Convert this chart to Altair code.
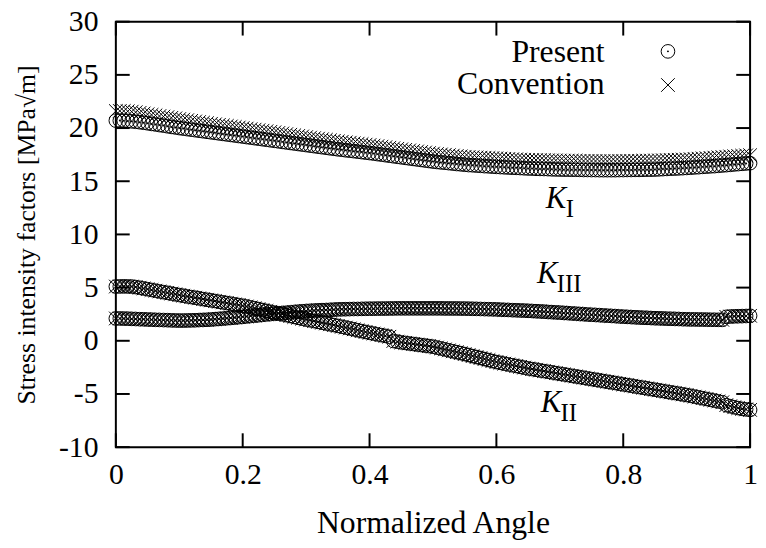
import altair as alt
import pandas as pd

# ---------------- data ----------------
angle = [i / 160 for i in range(161)]

ki_present = [
    20.70, 20.70, 20.69, 20.67, 20.63, 20.59, 20.55, 20.50, 20.45,
    20.39, 20.34, 20.28, 20.23, 20.17, 20.11, 20.06, 20.00,
    19.95, 19.90, 19.85, 19.80, 19.75, 19.70, 19.65, 19.60,
    19.55, 19.50, 19.45, 19.40, 19.35, 19.30, 19.25, 19.20,
    19.15, 19.10, 19.05, 19.00, 18.95, 18.90, 18.85, 18.80,
    18.75, 18.70, 18.65, 18.60, 18.55, 18.50, 18.45, 18.40,
    18.35, 18.30, 18.25, 18.20, 18.15, 18.10, 18.05, 18.00,
    17.96, 17.91, 17.87, 17.83, 17.78, 17.74, 17.69, 17.65,
    17.60, 17.55, 17.50, 17.45, 17.40, 17.35, 17.30, 17.25,
    17.20, 17.15, 17.10, 17.05, 17.00, 16.95, 16.90, 16.85,
    16.81, 16.77, 16.74, 16.70, 16.66, 16.62, 16.59, 16.55,
    16.52, 16.50, 16.47, 16.45, 16.42, 16.40, 16.37, 16.35,
    16.33, 16.31, 16.29, 16.27, 16.26, 16.24, 16.22, 16.20,
    16.19, 16.17, 16.16, 16.15, 16.14, 16.12, 16.11, 16.10,
    16.09, 16.09, 16.08, 16.08, 16.07, 16.06, 16.06, 16.05,
    16.05, 16.04, 16.04, 16.04, 16.04, 16.04, 16.05, 16.05,
    16.06, 16.06, 16.07, 16.07, 16.08, 16.09, 16.09, 16.10,
    16.12, 16.14, 16.16, 16.18, 16.19, 16.21, 16.23, 16.25,
    16.27, 16.30, 16.32, 16.35, 16.37, 16.40, 16.42, 16.45,
    16.48, 16.51, 16.54, 16.58, 16.61, 16.64, 16.67, 16.70,
]

ki_convention = [
    21.60, 21.61, 21.60, 21.58, 21.54, 21.49, 21.43, 21.37, 21.30,
    21.24, 21.19, 21.13, 21.08, 21.02, 20.96, 20.91, 20.85,
    20.79, 20.74, 20.68, 20.62, 20.57, 20.51, 20.46, 20.40,
    20.35, 20.30, 20.25, 20.20, 20.15, 20.10, 20.05, 20.00,
    19.95, 19.90, 19.85, 19.80, 19.75, 19.70, 19.65, 19.60,
    19.54, 19.49, 19.43, 19.37, 19.32, 19.26, 19.21, 19.15,
    19.10, 19.05, 19.00, 18.95, 18.90, 18.85, 18.80, 18.75,
    18.71, 18.66, 18.62, 18.57, 18.53, 18.49, 18.44, 18.40,
    18.35, 18.30, 18.25, 18.20, 18.15, 18.10, 18.05, 18.00,
    17.95, 17.90, 17.85, 17.80, 17.75, 17.70, 17.65, 17.60,
    17.56, 17.52, 17.49, 17.45, 17.41, 17.37, 17.34, 17.30,
    17.28, 17.26, 17.24, 17.22, 17.21, 17.19, 17.17, 17.15,
    17.13, 17.11, 17.09, 17.07, 17.06, 17.04, 17.02, 17.00,
    16.99, 16.99, 16.98, 16.98, 16.97, 16.96, 16.96, 16.95,
    16.94, 16.94, 16.93, 16.93, 16.92, 16.91, 16.91, 16.90,
    16.90, 16.89, 16.89, 16.89, 16.89, 16.89, 16.90, 16.90,
    16.91, 16.91, 16.92, 16.92, 16.93, 16.94, 16.94, 16.95,
    16.96, 16.97, 16.99, 17.00, 17.01, 17.02, 17.04, 17.05,
    17.07, 17.10, 17.12, 17.15, 17.17, 17.20, 17.22, 17.25,
    17.28, 17.30, 17.33, 17.35, 17.38, 17.40, 17.43, 17.45,
]

kii = [
    5.10, 5.11, 5.12, 5.11, 5.10, 5.05, 4.99, 4.92, 4.85,
    4.78, 4.71, 4.64, 4.57, 4.51, 4.44, 4.37, 4.30,
    4.24, 4.17, 4.11, 4.05, 3.99, 3.92, 3.86, 3.80,
    3.74, 3.67, 3.61, 3.55, 3.49, 3.42, 3.36, 3.30,
    3.22, 3.14, 3.06, 2.98, 2.89, 2.81, 2.73, 2.65,
    2.57, 2.49, 2.41, 2.33, 2.24, 2.16, 2.08, 2.00,
    1.93, 1.85, 1.78, 1.70, 1.63, 1.55, 1.48, 1.40,
    1.32, 1.24, 1.16, 1.08, 0.99, 0.91, 0.83, 0.75,
    0.68, 0.60, 0.53, 0.46, 0.38, -0.02, -0.08, -0.15,
    -0.20, -0.25, -0.30, -0.35, -0.40, -0.45, -0.50, -0.55,
    -0.64, -0.72, -0.81, -0.90, -0.99, -1.07, -1.16, -1.25,
    -1.34, -1.44, -1.53, -1.62, -1.72, -1.81, -1.91, -2.00,
    -2.07, -2.15, -2.22, -2.30, -2.37, -2.45, -2.52, -2.60,
    -2.66, -2.72, -2.79, -2.85, -2.91, -2.97, -3.04, -3.10,
    -3.16, -3.22, -3.29, -3.35, -3.41, -3.47, -3.54, -3.60,
    -3.66, -3.72, -3.79, -3.85, -3.91, -3.97, -4.04, -4.10,
    -4.16, -4.22, -4.29, -4.35, -4.41, -4.47, -4.54, -4.60,
    -4.66, -4.72, -4.79, -4.85, -4.91, -4.97, -5.04, -5.10,
    -5.17, -5.25, -5.32, -5.40, -5.47, -5.55, -5.62, -5.70,
    -5.78, -6.05, -6.15, -6.25, -6.33, -6.40, -6.45, -6.50,
]

kiii = [
    2.10, 2.10, 2.09, 2.08, 2.06, 2.05, 2.03, 2.02, 2.00,
    1.99, 1.97, 1.96, 1.95, 1.94, 1.92, 1.91, 1.90,
    1.90, 1.91, 1.92, 1.93, 1.95, 1.96, 1.98, 2.00,
    2.03, 2.06, 2.09, 2.12, 2.15, 2.18, 2.22, 2.25,
    2.29, 2.33, 2.36, 2.40, 2.44, 2.48, 2.51, 2.55,
    2.58, 2.61, 2.64, 2.67, 2.71, 2.74, 2.77, 2.80,
    2.82, 2.84, 2.86, 2.88, 2.89, 2.91, 2.93, 2.95,
    2.96, 2.97, 2.98, 2.99, 2.99, 3.00, 3.01, 3.02,
    3.02, 3.03, 3.03, 3.03, 3.04, 3.04, 3.05, 3.05,
    3.05, 3.05, 3.05, 3.05, 3.05, 3.05, 3.05, 3.05,
    3.05, 3.05, 3.04, 3.04, 3.04, 3.04, 3.03, 3.03,
    3.02, 3.01, 3.00, 2.99, 2.98, 2.97, 2.96, 2.95,
    2.93, 2.91, 2.90, 2.88, 2.87, 2.85, 2.84, 2.82,
    2.80, 2.78, 2.76, 2.74, 2.71, 2.69, 2.67, 2.65,
    2.62, 2.60, 2.57, 2.55, 2.52, 2.50, 2.47, 2.45,
    2.43, 2.41, 2.38, 2.36, 2.34, 2.32, 2.29, 2.27,
    2.25, 2.23, 2.21, 2.19, 2.17, 2.16, 2.14, 2.12,
    2.11, 2.10, 2.08, 2.07, 2.06, 2.05, 2.03, 2.02,
    2.01, 2.01, 2.00, 2.00, 1.99, 1.98, 1.98, 1.97,
    1.97, 2.25, 2.28, 2.30, 2.31, 2.32, 2.33, 2.35,
]

for arr in (ki_present, ki_convention, kii, kiii):
    assert len(arr) == len(angle), len(arr)

x_ticks = [0, 0.2, 0.4, 0.6, 0.8, 1]
y_ticks = [-10, -5, 0, 5, 10, 15, 20, 25, 30]

label_t = [0.678, 0.664, 0.670]
label_v = [12.46, 5.41, -6.66]
label_main = ["K", "K", "K"]
label_sub = ["I", "III", "II"]

legend_names = ["Present", "Convention"]

# ---------------- build tables ----------------
present = pd.concat([
    pd.DataFrame({"t": angle, "v": ki_present, "s": "KI"}),
    pd.DataFrame({"t": angle, "v": kii, "s": "KII"}),
    pd.DataFrame({"t": angle, "v": kiii, "s": "KIII"}),
])
convention = pd.concat([
    pd.DataFrame({"t": angle, "v": ki_convention, "s": "KI"}),
    pd.DataFrame({"t": angle, "v": kii, "s": "KII"}),
    pd.DataFrame({"t": angle, "v": kiii, "s": "KIII"}),
])
labels = pd.DataFrame({"t": label_t, "v": label_v, "main": label_main, "sub": label_sub})

W, H = 641, 430
FONT = "Liberation Serif"
TICK = 14
CROSS = "M-1,-1L1,1M1,-1L-1,1"
MSIZE = 190

x_enc = alt.X("t:Q", scale=alt.Scale(domain=[0, 1], nice=False, zero=False),
              axis=alt.Axis(values=x_ticks, labelExpr="'' + datum.value",
                            title="Normalized Angle", labelPadding=13, titlePadding=18,
                            titleFontSize=32))
y_enc = alt.Y("v:Q", scale=alt.Scale(domain=[-10, 30], nice=False, zero=False),
              axis=alt.Axis(values=y_ticks, labelExpr="'' + datum.value",
                            title="Stress intensity factors [MPa√m]",
                            labelPadding=18, titlePadding=19, titleFontSize=26))

circles = alt.Chart(present).mark_point(
    shape="circle", filled=False, size=MSIZE, stroke="black", strokeWidth=1, opacity=1
).encode(x=x_enc, y=y_enc, detail="s:N")
dots = alt.Chart(present).mark_point(
    shape="circle", filled=True, size=4, color="black", opacity=1
).encode(x=x_enc, y=y_enc, detail="s:N")
crosses = alt.Chart(convention).mark_point(
    shape=CROSS, filled=False, size=MSIZE, stroke="black", strokeWidth=1, opacity=1
).encode(x=x_enc, y=y_enc, detail="s:N")

ytick_df = pd.DataFrame({"v": y_ticks})
xtick_df = pd.DataFrame({"t": x_ticks})
tick_left = alt.Chart(ytick_df).mark_rule(color="black", strokeWidth=2).encode(
    y=y_enc, x=alt.value(0), x2=alt.value(TICK))
tick_right = alt.Chart(ytick_df).mark_rule(color="black", strokeWidth=2).encode(
    y=y_enc, x=alt.value(W - TICK), x2=alt.value(W))
tick_bottom = alt.Chart(xtick_df).mark_rule(color="black", strokeWidth=2).encode(
    x=x_enc, y=alt.value(H), y2=alt.value(H - TICK))
tick_top = alt.Chart(xtick_df).mark_rule(color="black", strokeWidth=2).encode(
    x=x_enc, y=alt.value(0), y2=alt.value(TICK))

lab_main = alt.Chart(labels).mark_text(
    font=FONT, fontStyle="italic", fontSize=31, align="left", baseline="alphabetic", color="black"
).encode(x=x_enc, y=y_enc, text="main:N")
lab_sub = alt.Chart(labels).mark_text(
    font=FONT, fontSize=25, align="left", baseline="alphabetic", color="black", dx=20, dy=9
).encode(x=x_enc, y=y_enc, text="sub:N")

leg_text1 = alt.Chart(pd.DataFrame({"name": [legend_names[0]]})).mark_text(
    font=FONT, fontSize=32, align="right", baseline="alphabetic", color="black"
).encode(text="name:N", x=alt.value(494), y=alt.value(41))
leg_text2 = alt.Chart(pd.DataFrame({"name": [legend_names[1]]})).mark_text(
    font=FONT, fontSize=32, align="right", baseline="alphabetic", color="black"
).encode(text="name:N", x=alt.value(494), y=alt.value(73))
leg_circle = alt.Chart(pd.DataFrame({"name": [legend_names[0]]})).mark_point(
    shape="circle", filled=False, size=MSIZE, stroke="black", strokeWidth=1, opacity=1
).encode(x=alt.value(558), y=alt.value(30), detail="name:N")
leg_dot = alt.Chart(pd.DataFrame({"name": [legend_names[0]]})).mark_point(
    shape="circle", filled=True, size=4, color="black", opacity=1
).encode(x=alt.value(558), y=alt.value(30), detail="name:N")
leg_cross = alt.Chart(pd.DataFrame({"name": [legend_names[1]]})).mark_point(
    shape=CROSS, filled=False, size=MSIZE, stroke="black", strokeWidth=1, opacity=1
).encode(x=alt.value(558), y=alt.value(64), detail="name:N")

chart = alt.layer(
    circles, dots, crosses,
    tick_left, tick_right, tick_bottom, tick_top,
    lab_main, lab_sub,
    leg_text1, leg_text2, leg_circle, leg_dot, leg_cross,
).properties(
    width=W, height=H,
    padding={"left": 109, "top": 11, "right": 8, "bottom": 91},
    autosize=alt.AutoSizeParams(type="none"),
    background="white",
).configure_view(
    stroke="black", strokeWidth=2
).configure_axis(
    grid=False, ticks=False, domain=False,
    labelFont=FONT, labelFontSize=30, labelColor="black", labelFlush=False, labelOverlap=False,
    titleFont=FONT, titleFontWeight="normal", titleColor="black",
)

chart.save("out.html", embed_options={"renderer": "svg", "actions": False})
